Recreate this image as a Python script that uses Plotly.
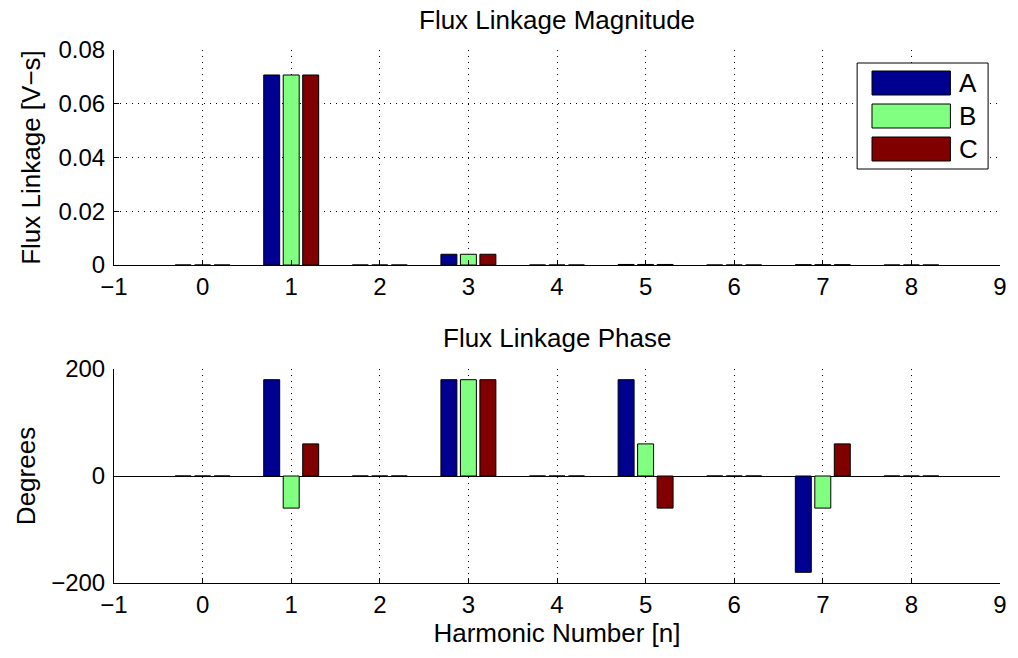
import plotly.graph_objects as go
from plotly.subplots import make_subplots

harmonics = [0, 1, 2, 3, 4, 5, 6, 7, 8]
series_names = ["A", "B", "C"]
series_colors = ["#000090", "#80FF80", "#800000"]

mag_A = [0.0, 0.0707, 0.0, 0.0040, 0.0, 0.0002, 0.0, 0.0001, 0.0]
mag_B = [0.0, 0.0707, 0.0, 0.0040, 0.0, 0.0002, 0.0, 0.0001, 0.0]
mag_C = [0.0, 0.0707, 0.0, 0.0040, 0.0, 0.0002, 0.0, 0.0001, 0.0]

phase_A = [0, 180, 0, 180, 0, 180, 0, -180, 0]
phase_B = [0, -60, 0, 180, 0, 60, 0, -60, 0]
phase_C = [0, 60, 0, 180, 0, -60, 0, 60, 0]

x_ticks = [-1, 0, 1, 2, 3, 4, 5, 6, 7, 8, 9]
mag_ticks = [0, 0.02, 0.04, 0.06, 0.08]
mag_tick_text = ["0", "0.02", "0.04", "0.06", "0.08"]
phase_ticks = [-200, 0, 200]
phase_tick_text = ["\u2212200", "0", "200"]

FONT = "Liberation Sans, Arial, Helvetica, sans-serif"
FS_TICK = 24
FS_LABEL = 26
FS_TITLE = 26

H_TOP = (583 - 265) / 533
H_BOT = (583 - 369) / 533

fig = make_subplots(rows=2, cols=1)
fig.update_layout(
    yaxis=dict(domain=[H_TOP, 1.0]),
    yaxis2=dict(domain=[0.0, H_BOT]),
)

mags = [mag_A, mag_B, mag_C]
phases = [phase_A, phase_B, phase_C]
for name, col, m, p in zip(series_names, series_colors, mags, phases):
    fig.add_trace(go.Bar(x=harmonics, y=m, name=name, marker=dict(color=col, line=dict(color="black", width=1)),
                         offsetgroup=name, showlegend=False), row=1, col=1)
    fig.add_trace(go.Bar(x=harmonics, y=p, name=name, marker=dict(color=col, line=dict(color="black", width=1)),
                         offsetgroup=name, showlegend=False), row=2, col=1)

grid = dict(showgrid=True, gridcolor="black", griddash="1px,5px", gridwidth=1)
axis_common = dict(showline=True, linecolor="black", linewidth=1, mirror=False,
                   ticks="inside", ticklen=5, tickcolor="black",
                   tickfont=dict(family=FONT, size=FS_TICK, color="black"), **grid)

for r in (1, 2):
    fig.update_xaxes(range=[-1, 9], tickmode="array", tickvals=x_ticks,
                     ticktext=[("\u2212" + str(-t)) if t < 0 else str(t) for t in x_ticks],
                     zeroline=False, ticklabelstandoff=0, row=r, col=1, **axis_common)

fig.update_yaxes(range=[0, 0.08], tickmode="array", tickvals=mag_ticks, ticktext=mag_tick_text,
                 zeroline=False, ticklabelstandoff=3, row=1, col=1,
                 title=dict(text="Flux Linkage [V\u2212s]", font=dict(family=FONT, size=FS_LABEL, color="black"), standoff=10),
                 **axis_common)
fig.update_yaxes(range=[-200, 200], tickmode="array", tickvals=phase_ticks, ticktext=phase_tick_text,
                 zeroline=True, zerolinecolor="black", zerolinewidth=1, ticklabelstandoff=3, row=2, col=1,
                 title=dict(text="Degrees", font=dict(family=FONT, size=FS_LABEL, color="black"), standoff=8),
                 **axis_common)
fig.update_xaxes(title=dict(text="Harmonic Number [n]", font=dict(family=FONT, size=FS_LABEL, color="black"), standoff=6),
                 row=2, col=1)

annotations = [
    dict(text="Flux Linkage Magnitude", x=0.5, xref="paper", y=1.0, yref="paper", yshift=30,
         showarrow=False, font=dict(family=FONT, size=FS_TITLE, color="black"), xanchor="center", yanchor="middle"),
    dict(text="Flux Linkage Phase", x=0.5, xref="paper", y=H_BOT, yref="paper", yshift=31,
         showarrow=False, font=dict(family=FONT, size=FS_TITLE, color="black"), xanchor="center", yanchor="middle"),
]

# custom legend (top-right of upper axes), in axis-domain coordinates
shapes = []
dom_w = 1007 - 114
dom_h = 265 - 50
def dx(px):
    return (px - 114) / dom_w
def dy(py):
    return (265 - py) / dom_h
shapes.append(dict(type="rect", xref="x domain", yref="y domain", x0=dx(863), x1=dx(995), y0=dy(169), y1=dy(63),
                   line=dict(color="black", width=1), fillcolor="white", layer="above"))
sw_top = [71, 104, 137]
for i, (name, col) in enumerate(zip(series_names, series_colors)):
    shapes.append(dict(type="rect", xref="x domain", yref="y domain", x0=dx(878), x1=dx(957),
                       y0=dy(sw_top[i] + 24), y1=dy(sw_top[i]),
                       line=dict(color="black", width=1), fillcolor=col, layer="above"))
    annotations.append(dict(text=name, xref="x domain", yref="y domain", x=dx(964), y=dy(sw_top[i] + 12),
                            xanchor="left", yanchor="middle", showarrow=False,
                            font=dict(family=FONT, size=26, color="black")))

fig.update_layout(
    width=1018, height=658,
    margin=dict(l=114, r=11, t=50, b=75),
    paper_bgcolor="white", plot_bgcolor="white",
    barmode="group", bargap=0.34, bargroupgap=0.18,
    annotations=annotations, shapes=shapes,
    font=dict(family=FONT, size=FS_TICK, color="black"),
)

fig.write_html("out.html")
